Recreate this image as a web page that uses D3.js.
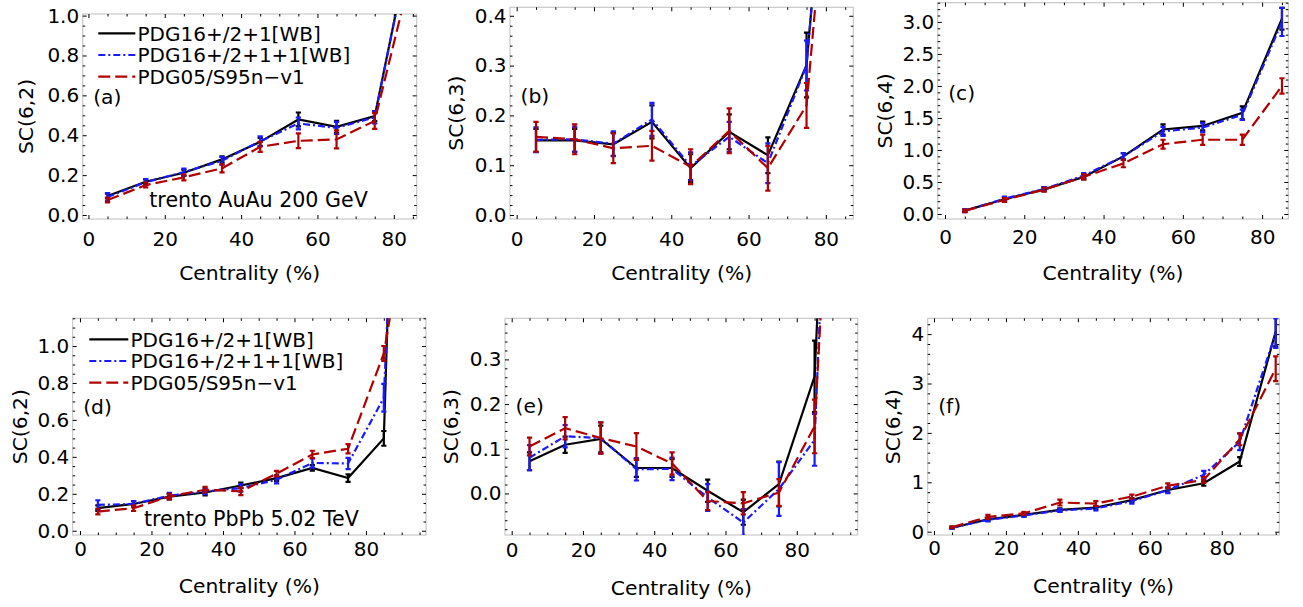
<!DOCTYPE html>
<html>
<head>
<meta charset="utf-8">
<script src="https://cdn.jsdelivr.net/npm/d3@7"></script>
<style>
  body { margin: 0; background: #fff; }
  text { font-family: "DejaVu Sans", Verdana, sans-serif; }
</style>
</head>
<body>
<svg id="chart" width="1303" height="607"></svg>
<script>
// centrality bins (%)
var cent = [5, 15, 25, 35, 45, 55, 65, 75, 85, 95];
var seriesNames = ["PDG16+/2+1[WB]", "PDG16+/2+1+1[WB]", "PDG05/S95n\u2212v1"];

// (a) SC(6,2) AuAu 200 GeV
var a_wb      = [0.095, 0.167, 0.212, 0.279, 0.367, 0.479, 0.442, 0.496, 1.43];
var a_wb_err  = [0.012, 0.012, 0.015, 0.015, 0.02, 0.035, 0.03, 0.025, 0.1];
var a_wb1     = [0.09, 0.165, 0.215, 0.272, 0.37, 0.459, 0.437, 0.49, 1.43];
var a_wb1_err = [0.02, 0.015, 0.018, 0.02, 0.025, 0.03, 0.03, 0.03, 0.1];
var a_s95     = [0.075, 0.15, 0.189, 0.234, 0.342, 0.372, 0.379, 0.472, 1.25];
var a_s95_err = [0.012, 0.012, 0.015, 0.02, 0.025, 0.037, 0.045, 0.04, 0.1];

// (b) SC(6,3) AuAu
var b_wb      = [0.150, 0.150, 0.142, 0.187, 0.094, 0.167, 0.120, 0.301, 1.2];
var b_wb_err  = [0.023, 0.023, 0.023, 0.033, 0.028, 0.035, 0.036, 0.065, 0.1];
var b_wb1     = [0.151, 0.152, 0.143, 0.192, 0.098, 0.157, 0.104, 0.300, 1.2];
var b_wb1_err = [0.025, 0.025, 0.025, 0.033, 0.028, 0.03, 0.04, 0.05, 0.1];
var b_s95     = [0.157, 0.152, 0.134, 0.139, 0.097, 0.169, 0.094, 0.22, 1.1];
var b_s95_err = [0.03, 0.03, 0.03, 0.03, 0.035, 0.045, 0.045, 0.045, 0.1];

// (c) SC(6,4) AuAu
var c_wb      = [0.052, 0.23, 0.385, 0.58, 0.90, 1.32, 1.375, 1.58, 3.05];
var c_wb_err  = [0.02, 0.03, 0.03, 0.04, 0.05, 0.08, 0.07, 0.1, 0.17];
var c_wb1     = [0.05, 0.24, 0.39, 0.6, 0.9, 1.29, 1.35, 1.55, 3.0];
var c_wb1_err = [0.02, 0.03, 0.03, 0.04, 0.05, 0.07, 0.07, 0.08, 0.22];
var c_s95     = [0.05, 0.22, 0.38, 0.58, 0.79, 1.09, 1.16, 1.16, 2.0];
var c_s95_err = [0.02, 0.03, 0.03, 0.04, 0.06, 0.07, 0.08, 0.08, 0.12];

// (d) SC(6,2) PbPb 5.02 TeV
var d_wb      = [0.122, 0.145, 0.185, 0.207, 0.245, 0.285, 0.34, 0.285, 0.50, 6.7];
var d_wb_err  = [0.015, 0.015, 0.015, 0.015, 0.015, 0.015, 0.015, 0.02, 0.04, 0.3];
var d_wb1     = [0.14, 0.145, 0.19, 0.213, 0.231, 0.276, 0.367, 0.364, 0.72, 5.1];
var d_wb1_err = [0.025, 0.015, 0.015, 0.015, 0.02, 0.02, 0.025, 0.03, 0.075, 0.3];
var d_s95     = [0.104, 0.122, 0.185, 0.222, 0.213, 0.309, 0.413, 0.444, 0.96, 2.1];
var d_s95_err = [0.015, 0.015, 0.015, 0.015, 0.02, 0.015, 0.02, 0.025, 0.04, 0.3];

// (e) SC(6,3) PbPb
var e_wb      = [0.072, 0.109, 0.122, 0.057, 0.057, 0.006, -0.042, 0.021, 0.262, 2.0];
var e_wb_err  = [0.02, 0.018, 0.03, 0.02, 0.02, 0.025, 0.028, 0.05, 0.08, 0.2];
var e_wb1     = [0.08, 0.128, 0.124, 0.054, 0.055, -0.009, -0.065, 0.01, 0.12, 2.0];
var e_wb1_err = [0.028, 0.025, 0.035, 0.025, 0.025, 0.03, 0.03, 0.06, 0.058, 0.2];
var e_s95     = [0.105, 0.146, 0.124, 0.105, 0.067, -0.017, -0.022, 0.002, 0.15, 1.6];
var e_s95_err = [0.02, 0.025, 0.035, 0.03, 0.025, 0.02, 0.025, 0.03, 0.06, 0.2];

// (f) SC(6,4) PbPb
var f_wb      = [0.08, 0.25, 0.34, 0.44, 0.49, 0.64, 0.845, 0.98, 1.42, 4.05];
var f_wb_err  = [0.02, 0.03, 0.03, 0.03, 0.03, 0.04, 0.05, 0.05, 0.09, 0.3];
var f_wb1     = [0.08, 0.24, 0.33, 0.43, 0.47, 0.62, 0.84, 1.15, 1.82, 4.02];
var f_wb1_err = [0.02, 0.03, 0.03, 0.03, 0.04, 0.05, 0.06, 0.08, 0.17, 0.3];
var f_s95     = [0.09, 0.30, 0.37, 0.59, 0.57, 0.71, 0.93, 1.05, 1.87, 3.3];
var f_s95_err = [0.02, 0.04, 0.03, 0.06, 0.05, 0.04, 0.05, 0.06, 0.12, 0.25];

var colors = ["#000000", "#1a1aff", "#b00000"];
var dashes = [null, "7,3,2,3", "12,5"];

var panels = [
  {tag: "(a)", ys: [a_wb, a_wb1, a_s95], es: [a_wb_err, a_wb1_err, a_s95_err], title: "SC(6,2)",
   left: 82.7, right: 416.7, top: 14, bottom: 219, xDom: [-1.5, 86], yDom: [-0.02, 1.008],
   yStep: 0.2, yMinor: 0.05, fmt: ".1f", xPad: 12.5, titleX: 33.3, xTitleY: 279.5, tagY: 104,
   legend: {x: 98.3, len: 37, tx: 137.5, y: 33.3}, note: "trento AuAu 200 GeV", noteX: 149.3, noteY: 207.3},
  {tag: "(b)", ys: [b_wb, b_wb1, b_s95], es: [b_wb_err, b_wb1_err, b_s95_err], title: "SC(6,3)",
   left: 510, right: 853.3, top: 7.3, bottom: 219, xDom: [-1.73, 87.1], yDom: [-0.008, 0.417],
   yStep: 0.1, yMinor: 0.02, fmt: ".1f", xPad: 12.3, titleX: 463, xTitleY: 279.5, tagY: 103},
  {tag: "(c)", ys: [c_wb, c_wb1, c_s95], es: [c_wb_err, c_wb1_err, c_s95_err], title: "SC(6,4)",
   left: 937.7, right: 1288.3, top: 2.7, bottom: 219, xDom: [-1.84, 86.6], yDom: [-0.078, 3.30],
   yStep: 0.5, yMinor: 0.1, fmt: ".1f", xPad: 11, titleX: 891.7, xTitleY: 280, tagY: 100},
  {tag: "(d)", ys: [d_wb, d_wb1, d_s95], es: [d_wb_err, d_wb1_err, d_s95_err], title: "SC(6,2)",
   left: 72.7, right: 426, top: 318.3, bottom: 535, xDom: [-2.04, 96.8], yDom: [-0.023, 1.15],
   yStep: 0.2, yMinor: 0.05, fmt: ".1f", xPad: 7, titleX: 26.7, xTitleY: 593.3, tagY: 414,
   legend: {x: 89.3, len: 39, tx: 130.5, y: 339.3}, note: "trento PbPb 5.02 TeV", noteX: 144, noteY: 526},
  {tag: "(e)", ys: [e_wb, e_wb1, e_s95], es: [e_wb_err, e_wb1_err, e_s95_err], title: "SC(6,3)",
   left: 505, right: 857.7, top: 318.3, bottom: 535, xDom: [-1.88, 97.1], yDom: [-0.093, 0.392],
   yStep: 0.1, yMinor: 0.02, fmt: ".1f", xPad: 8, titleX: 458.3, xTitleY: 595, tagY: 413},
  {tag: "(f)", ys: [f_wb, f_wb1, f_s95], es: [f_wb_err, f_wb1_err, f_s95_err], title: "SC(6,4)",
   left: 927.7, right: 1279.3, top: 318.3, bottom: 535, xDom: [-1.75, 96.0], yDom: [-0.067, 4.32],
   yStep: 1, yMinor: 0.2, fmt: "d", xPad: 5.5, titleX: 900, xTitleY: 593.3, tagY: 413}
];

var tickFont = 20, titleFont = 20.3, labelFont = 20.3;

var svg = d3.select("#chart");
var defs = svg.append("defs");

function stepTicks(dom, step) {
  var k0 = Math.ceil(dom[0] / step - 1e-9), k1 = Math.floor(dom[1] / step + 1e-9);
  return d3.range(k0, k1 + 1).map(function(k) { return +(k * step).toFixed(6); });
}

function styleAxis(g) {
  g.select(".domain").remove();
  g.selectAll("line").attr("stroke", "#000").attr("stroke-width", 1);
  g.selectAll("text").attr("fill", "#000").attr("font-size", tickFont)
    .attr("font-family", null);
}

panels.forEach(function(p, pi) {
  var x = d3.scaleLinear().domain(p.xDom).range([p.left, p.right]);
  var y = d3.scaleLinear().domain(p.yDom).range([p.bottom, p.top]);
  var g = svg.append("g");

  defs.append("clipPath").attr("id", "clip" + pi)
    .append("rect")
      .attr("x", p.left).attr("y", p.top)
      .attr("width", p.right - p.left).attr("height", p.bottom - p.top);

  // frame
  g.append("rect")
    .attr("x", p.left).attr("y", p.top)
    .attr("width", p.right - p.left).attr("height", p.bottom - p.top)
    .attr("fill", "none").attr("stroke", "#c8c8c8").attr("stroke-width", 1.2);

  var xMaj = stepTicks(p.xDom, 20);
  var xMin = stepTicks(p.xDom, 5).filter(function(v) { return xMaj.indexOf(v) < 0; });
  var yMaj = stepTicks(p.yDom, p.yStep);
  var yMin = stepTicks(p.yDom, p.yMinor).filter(function(v) {
    return !yMaj.some(function(m) { return Math.abs(m - v) < 1e-6; });
  });

  // bottom / left with labels
  g.append("g").attr("transform", "translate(0," + p.bottom + ")")
    .call(d3.axisBottom(x).tickValues(xMaj).tickSize(-4).tickPadding(p.xPad).tickFormat(d3.format("d")))
    .call(styleAxis);
  g.append("g").attr("transform", "translate(0," + p.bottom + ")")
    .call(d3.axisBottom(x).tickValues(xMin).tickSize(-2.5).tickFormat(""))
    .call(styleAxis);
  g.append("g").attr("transform", "translate(" + p.left + ",0)")
    .call(d3.axisLeft(y).tickValues(yMaj).tickSize(-4).tickPadding(3.5).tickFormat(d3.format(p.fmt)))
    .call(styleAxis);
  g.append("g").attr("transform", "translate(" + p.left + ",0)")
    .call(d3.axisLeft(y).tickValues(yMin).tickSize(-2.5).tickFormat(""))
    .call(styleAxis);
  // top / right, ticks only
  g.append("g").attr("transform", "translate(0," + p.top + ")")
    .call(d3.axisTop(x).tickValues(xMaj).tickSize(-4).tickFormat(""))
    .call(styleAxis);
  g.append("g").attr("transform", "translate(0," + p.top + ")")
    .call(d3.axisTop(x).tickValues(xMin).tickSize(-2.5).tickFormat(""))
    .call(styleAxis);
  g.append("g").attr("transform", "translate(" + p.right + ",0)")
    .call(d3.axisRight(y).tickValues(yMaj).tickSize(-4).tickFormat(""))
    .call(styleAxis);
  g.append("g").attr("transform", "translate(" + p.right + ",0)")
    .call(d3.axisRight(y).tickValues(yMin).tickSize(-2.5).tickFormat(""))
    .call(styleAxis);

  // axis titles
  g.append("text")
    .attr("x", (p.left + p.right) / 2).attr("y", p.xTitleY)
    .attr("text-anchor", "middle").attr("font-size", titleFont)
    .text("Centrality (%)");
  g.append("text")
    .attr("transform", "translate(" + p.titleX + "," + ((p.top + p.bottom) / 2) + ") rotate(-90)")
    .attr("text-anchor", "middle").attr("font-size", titleFont)
    .text(p.title);

  // data
  var plot = g.append("g").attr("clip-path", "url(#clip" + pi + ")");
  p.ys.forEach(function(vals, si) {
    var pts = vals.map(function(v, i) { return {c: cent[i], v: v, e: p.es[si][i]}; });
    var s = plot.append("g");
    var bars = s.selectAll("g.err").data(pts).join("g").attr("class", "err")
      .attr("stroke", colors[si]).attr("stroke-width", 2.2);
    bars.append("line")
      .attr("x1", function(d) { return x(d.c); }).attr("x2", function(d) { return x(d.c); })
      .attr("y1", function(d) { return y(d.v - d.e); }).attr("y2", function(d) { return y(d.v + d.e); });
    bars.append("line")
      .attr("x1", function(d) { return x(d.c) - 2.6; }).attr("x2", function(d) { return x(d.c) + 2.6; })
      .attr("y1", function(d) { return y(d.v + d.e); }).attr("y2", function(d) { return y(d.v + d.e); });
    bars.append("line")
      .attr("x1", function(d) { return x(d.c) - 2.6; }).attr("x2", function(d) { return x(d.c) + 2.6; })
      .attr("y1", function(d) { return y(d.v - d.e); }).attr("y2", function(d) { return y(d.v - d.e); });
    s.append("path")
      .datum(pts)
      .attr("fill", "none")
      .attr("stroke", colors[si])
      .attr("stroke-width", 2.2)
      .attr("stroke-dasharray", dashes[si])
      .attr("d", d3.line().x(function(d) { return x(d.c); }).y(function(d) { return y(d.v); }));
  });

  // panel tag
  g.append("text")
    .attr("x", p.left + 10.5).attr("y", p.tagY)
    .attr("font-size", labelFont).text(p.tag);

  if (p.note) {
    g.append("text").attr("x", p.noteX).attr("y", p.noteY)
      .attr("font-size", 20.6).text(p.note);
  }

  if (p.legend) {
    var L = p.legend;
    var lg = g.append("g");
    seriesNames.forEach(function(name, si) {
      var yy = L.y + si * 21.7;
      lg.append("line")
        .attr("x1", L.x).attr("x2", L.x + L.len)
        .attr("y1", yy).attr("y2", yy)
        .attr("stroke", colors[si]).attr("stroke-width", 2.2)
        .attr("stroke-dasharray", dashes[si]);
      lg.append("text")
        .attr("x", L.tx).attr("y", yy + 7.3)
        .attr("font-size", 20).text(name);
    });
  }
});
</script>
</body>
</html>
